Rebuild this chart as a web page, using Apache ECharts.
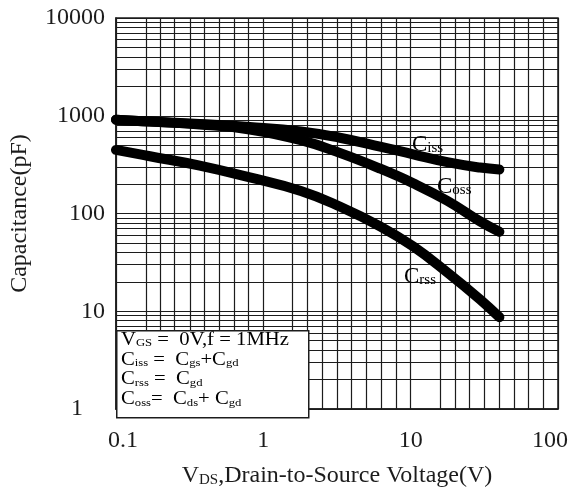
<!DOCTYPE html>
<html>
<head>
<meta charset="utf-8">
<script src="https://cdn.jsdelivr.net/npm/echarts@6/dist/echarts.min.js"></script>
<style>
  html, body { margin: 0; padding: 0; background: #fff; }
  #chart { width: 578px; height: 493px; }
</style>
</head>
<body>
<div id="chart"></div>
<script>
// Drain-source voltage (V) and capacitance (pF) for each curve
const vSweep = [0.1, 0.17, 0.37, 0.81, 1.8, 3.3, 6.2, 10.4, 17.7, 29.6, 40];
const ciss = [912, 871, 822, 767, 692, 596, 484, 403, 335, 295, 282];
const coss = [912, 871, 813, 724, 562, 417, 288, 204, 135, 83, 65];
const crss = [447, 385, 309, 234, 170, 118, 74, 46, 25, 13.2, 8.7];

// Axis ticks
const xTickLabels = ['0.1', '1', '10', '100'];
const yTickLabels = ['1', '10', '100', '1000', '10000'];

// Chart paper: vertical rules sit at even tenths of each decade,
// horizontal rules at the usual 2..9 multiples
const xDecades = [0.1, 1, 10];
const xDecadeSteps = [0.2, 0.3, 0.4, 0.5, 0.6, 0.7, 0.8, 0.9];
const yDecades = [1, 10, 100, 1000];
const yMultiples = [2, 3, 4, 5, 6, 7, 8, 9];

const SERIF = 'Liberation Serif';
const INK = '#1c1c1c';

const xRules = [];
xDecades.forEach(d => xDecadeSteps.forEach(f => xRules.push({ xAxis: d * Math.pow(10, f) })));
const yRules = [];
yDecades.forEach(d => yMultiples.forEach(m => yRules.push({ yAxis: d * m })));

function pairs(xs, ys) { return xs.map((x, i) => [x, ys[i]]); }

function curve(name, ys) {
  return {
    name: name,
    type: 'line',
    data: pairs(vSweep, ys),
    smooth: 0.45,
    symbol: 'none',
    z: 5,
    silent: true,
    lineStyle: { color: '#000', width: 10, cap: 'round', join: 'round' }
  };
}

function tok(size, lh) {
  return { fontFamily: SERIF, color: INK, fontSize: size, lineHeight: lh, verticalAlign: 'bottom' };
}

function curveLabel(text, sub, x, y) {
  return {
    type: 'text', left: x, top: y, z: 50,
    style: {
      text: '{c|' + text + '}{s|' + sub + '}',
      rich: { c: tok(23, 26), s: tok(15, 26) }
    }
  };
}

const chart = echarts.init(document.getElementById('chart'), null, { renderer: 'canvas' });

chart.setOption({
  animation: false,
  backgroundColor: '#fff',
  grid: {
    left: 116, right: 20, top: 18, bottom: 75,
    show: true, borderColor: INK, borderWidth: 1.5, backgroundColor: 'transparent'
  },
  xAxis: {
    type: 'log',
    logBase: 10,
    min: 0.1,
    max: 100,
    axisLine: { show: true, lineStyle: { color: INK, width: 1.5 } },
    axisTick: { show: false },
    splitLine: { show: true, lineStyle: { color: INK, width: 1.2 } },
    axisLabel: {
      margin: 20,
      fontFamily: SERIF,
      fontSize: 24,
      color: INK,
      formatter: v => {
        const i = Math.round(Math.log10(v)) + 1;
        if (i === 0) return '{first|' + xTickLabels[i] + '}';
        if (i === xTickLabels.length - 1) return '{last|' + xTickLabels[i] + '}';
        return xTickLabels[i];
      },
      rich: {
        first: { fontFamily: SERIF, fontSize: 24, color: INK, padding: [0, 0, 0, 14] },
        last: { fontFamily: SERIF, fontSize: 24, color: INK, padding: [0, 16, 8, 0] }
      }
    },
    name: '{b|V}{s|DS}{b|,Drain-to-Source Voltage(V)}',
    nameLocation: 'middle',
    nameGap: 53,
    nameTextStyle: {
      rich: { b: tok(24, 26), s: tok(15, 26) }
    }
  },
  yAxis: {
    type: 'log',
    logBase: 10,
    min: 1,
    max: 10000,
    axisLine: { show: true, lineStyle: { color: INK, width: 1.5 } },
    axisTick: { show: false },
    splitLine: { show: true, lineStyle: { color: INK, width: 1.2 } },
    axisLabel: {
      margin: 11,
      fontFamily: SERIF,
      fontSize: 24,
      color: INK,
      formatter: v => {
        const i = Math.round(Math.log10(v));
        return i === 0 ? '{one|' + yTickLabels[i] + '}' : yTickLabels[i];
      },
      rich: {
        one: { fontFamily: SERIF, fontSize: 24, color: INK, padding: [0, 22, 0, 0] }
      }
    },
    name: 'Capacitance(pF)',
    nameLocation: 'middle',
    nameRotate: 90,
    nameGap: 84,
    nameTextStyle: { fontFamily: SERIF, fontSize: 24, color: INK }
  },
  series: [
    {
      name: 'rules',
      type: 'line',
      data: [],
      z: 1,
      silent: true,
      markLine: {
        silent: true,
        animation: false,
        symbol: ['none', 'none'],
        label: { show: false },
        emphasis: { disabled: true },
        lineStyle: { color: INK, width: 1.2, type: 'solid' },
        data: xRules.concat(yRules)
      }
    },
    curve('Ciss', ciss),
    curve('Coss', coss),
    curve('Crss', crss)
  ],
  graphic: [
    curveLabel('C', 'iss', 412, 133),
    curveLabel('C', 'oss', 437, 175),
    curveLabel('C', 'rss', 404, 265),
    {
      type: 'rect', left: 116, top: 330, z: 100,
      shape: { width: 192, height: 87 },
      style: { fill: '#fff', stroke: INK, lineWidth: 1.5 }
    },
    {
      type: 'text', left: 121, top: 331, z: 101, scaleX: 1.15,
      style: {
        text: '{n|V}{s|GS}{n| =  0V,f = 1MHz}\n' +
              '{n|C}{s|iss}{n| =  C}{s|gs}{n|+C}{s|gd}\n' +
              '{n|C}{s|rss}{n| =  C}{s|gd}\n' +
              '{n|C}{s|oss}{n|=  C}{s|ds}{n|+ C}{s|gd}',
        rich: { n: tok(18, 19.8), s: tok(11, 19.8) }
      }
    }
  ]
});
</script>
</body>
</html>
